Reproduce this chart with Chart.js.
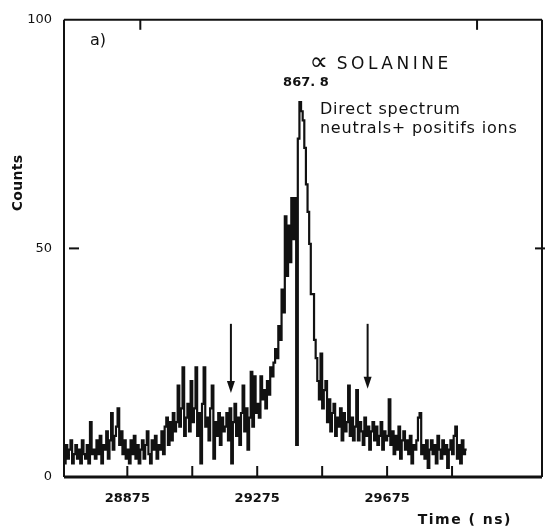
<!DOCTYPE html>
<html>
<head>
<meta charset="utf-8">
<script src="https://cdn.jsdelivr.net/npm/chart.js@4/dist/chart.umd.min.js"></script>
<style>
  html, body { margin: 0; padding: 0; background: #fff; }
  #wrap { width: 545px; height: 531px; }
</style>
</head>
<body>
<div id="wrap"><canvas id="chart"></canvas></div>
<script>
// channel histogram, 5 ns per channel starting at binStart
const binStart = 28680;
const binWidth = 5;
const counts = [
  5, 3, 7, 4, 6, 8, 3, 5, 7, 4, 6, 3, 8, 5, 4, 7, 3, 12, 5, 6,
  4, 8, 5, 9, 3, 7, 6, 10, 4, 8, 14, 6, 9, 11, 15, 7, 10, 5, 8, 4,
  6, 3, 8, 5, 9, 4, 7, 3, 6, 8, 4, 7, 10, 5, 3, 8, 6, 9, 4, 7,
  6, 10, 5, 11, 13, 7, 12, 8, 14, 10, 12, 20, 11, 15, 24, 9, 13, 16, 10, 21,
  12, 15, 24, 9, 14, 3, 16, 24, 11, 13, 8, 15, 20, 4, 12, 9, 14, 7, 13, 10,
  11, 14, 8, 15, 3, 12, 16, 9, 13, 7, 14, 20, 10, 15, 6, 13, 23, 11, 22, 14,
  16, 13, 22, 17, 19, 15, 21, 18, 24, 22,
  25, 28, 26, 33, 30, 41, 36, 57, 44, 55,
  47, 61, 52, 61, 7,
  74,
  82, 80,
  78, 72, 64, 58, 51, 40,
  40, 30, 26, 21, 17, 27,
  15, 19, 21, 12, 17, 10, 14, 16, 9, 13, 11, 15, 8, 14, 10, 12, 20, 9, 13, 8,
  11, 19, 8, 12, 10, 7, 13, 9, 11, 6, 10, 12, 8, 11, 7, 9, 12, 6, 10, 8,
  9, 17, 7, 10, 5, 9, 6, 11, 4, 8, 10, 6, 8, 5, 9, 3, 7, 6, 8, 13,
  14, 5, 7, 4, 8, 2, 6, 8, 5, 7, 3, 9, 6, 4, 8, 5, 7, 2, 6, 8,
  5, 9, 11, 4, 7, 3, 8, 5, 6
];

const xTickValues = [28875, 29075, 29275, 29475, 29675, 29875];
const xLabelValues = [28875, 29275, 29675];
const topTickValues = [28915, 29952];
const yTickValues = [0, 50, 100];
const yMarkValues = [50];

// arrows marking the window
const arrowTimes = [29194, 29615];
const arrowTop = [33.5, 33.5];
const arrowTip = [18.4, 19.3];

const points = counts.map((c, i) => ({ x: binStart + i * binWidth, y: c }));

function line(ctx, x1, y1, x2, y2) {
    ctx.beginPath();
    ctx.moveTo(x1, y1);
    ctx.lineTo(x2, y2);
    ctx.stroke();
}

const overlay = {
    id: 'overlay',
    afterDraw(chart) {
        const { ctx, chartArea: a, scales: { x, y } } = chart;
        ctx.save();
        ctx.strokeStyle = '#111';
        ctx.fillStyle = '#111';

        // frame
        ctx.lineWidth = 2;
        line(ctx, a.left, a.top, a.right, a.top);
        line(ctx, a.left, a.top, a.left, a.bottom);
        line(ctx, a.right, a.top, a.right, a.bottom);
        ctx.lineWidth = 3;
        line(ctx, a.left, a.bottom, a.right, a.bottom);

        // tick marks
        ctx.lineWidth = 2;
        xTickValues.forEach(v => {
            const px = x.getPixelForValue(v);
            line(ctx, px, a.bottom, px, a.bottom - 11);
        });
        topTickValues.forEach(v => {
            const px = x.getPixelForValue(v);
            line(ctx, px, a.top, px, a.top + 10);
        });
        yMarkValues.forEach(v => {
            const py = y.getPixelForValue(v);
            line(ctx, a.left + 5, py, a.left + 15, py);
            line(ctx, a.right - 7, py, a.right + 4, py);
        });

        // arrows
        arrowTimes.forEach((t, i) => {
            const px = x.getPixelForValue(t);
            const top = y.getPixelForValue(arrowTop[i]);
            const tip = y.getPixelForValue(arrowTip[i]);
            ctx.lineWidth = 2;
            line(ctx, px, top, px, tip - 8);
            ctx.beginPath();
            ctx.moveTo(px - 4, tip - 12);
            ctx.lineTo(px + 4, tip - 12);
            ctx.lineTo(px, tip);
            ctx.closePath();
            ctx.fill();
        });

        // texts
        ctx.textBaseline = 'middle';
        ctx.textAlign = 'left';
        ctx.font = '16px "DejaVu Sans"';
        ctx.fillText('a)', x.getPixelForValue(28760), y.getPixelForValue(95.5));

        ctx.font = '26px "DejaVu Sans"';
        ctx.fillText('\u221D', x.getPixelForValue(29436), y.getPixelForValue(90.5));
        ctx.font = '17px "DejaVu Sans"';
        ctx.letterSpacing = '3.5px';
        ctx.fillText('SOLANINE', x.getPixelForValue(29520), y.getPixelForValue(90.3));

        ctx.textAlign = 'center';
        ctx.letterSpacing = '0px';
        ctx.font = 'bold 13px "DejaVu Sans"';
        ctx.fillText('867. 8', x.getPixelForValue(29425), y.getPixelForValue(86.2));

        ctx.textAlign = 'left';
        ctx.font = '16px "DejaVu Sans"';
        ctx.letterSpacing = '0.8px';
        ctx.fillText('Direct spectrum', x.getPixelForValue(29468), y.getPixelForValue(80.2));
        ctx.fillText('neutrals+ positifs ions', x.getPixelForValue(29468), y.getPixelForValue(76.2));

        ctx.textAlign = 'right';
        ctx.font = 'bold 14px "DejaVu Sans"';
        ctx.letterSpacing = '1.5px';
        ctx.fillText('Time ( ns)', 512, 520);

        ctx.translate(18, 183);
        ctx.rotate(-Math.PI / 2);
        ctx.textAlign = 'center';
        ctx.letterSpacing = '0.3px';
        ctx.fillText('Counts', 0, 0);
        ctx.restore();
    }
};

new Chart(document.getElementById('chart'), {
    type: 'line',
    data: {
        datasets: [{
            data: points,
            borderColor: '#111',
            borderWidth: 2.2,
            stepped: 'after',
            pointRadius: 0,
            fill: false
        }]
    },
    options: {
        responsive: true,
        maintainAspectRatio: false,
        animation: false,
        layout: { padding: { top: 14, right: 3, left: 0, bottom: 0 } },
        plugins: {
            legend: { display: false },
            tooltip: { enabled: false }
        },
        scales: {
            x: {
                type: 'linear',
                min: 28680,
                max: 30152,
                grid: { display: false, drawTicks: false },
                border: { display: false },
                afterBuildTicks: s => { s.ticks = xTickValues.map(v => ({ value: v })); },
                afterFit: s => { s.height = 54; },
                ticks: {
                    autoSkip: false,
                    maxRotation: 0,
                    padding: 14,
                    color: '#111',
                    font: { family: 'DejaVu Sans', size: 13, weight: 'bold' },
                    callback: v => xLabelValues.includes(v) ? String(v) : ''
                }
            },
            y: {
                min: 0,
                max: 100,
                grid: { display: false, drawTicks: false },
                border: { display: false },
                afterBuildTicks: s => { s.ticks = yTickValues.map(v => ({ value: v })); },
                afterFit: s => { s.width = 64; },
                ticks: {
                    padding: 12,
                    color: '#111',
                    font: { family: 'DejaVu Sans', size: 13 }
                }
            }
        }
    },
    plugins: [overlay]
});
</script>
</body>
</html>
